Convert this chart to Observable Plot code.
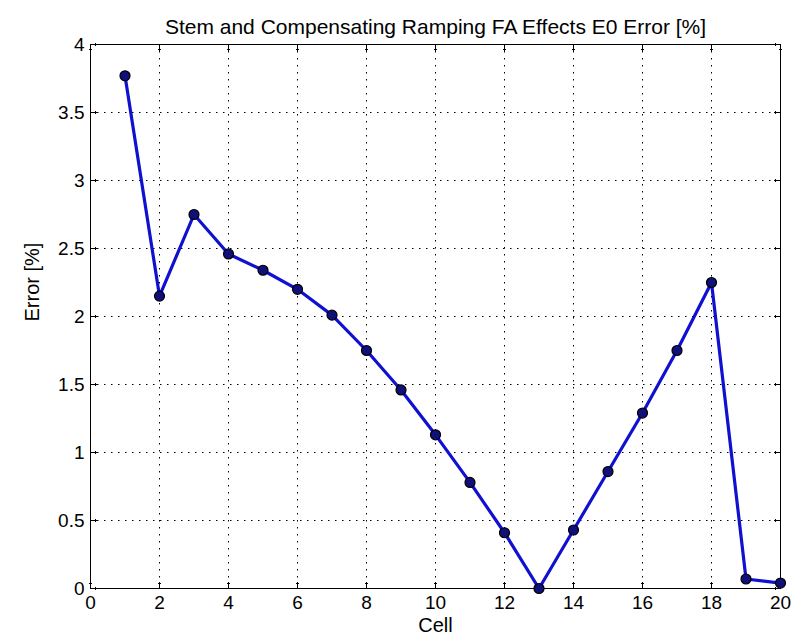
<!DOCTYPE html>
<html>
<head>
<meta charset="utf-8">
<script src="https://cdn.jsdelivr.net/npm/d3@7"></script>
<script src="https://cdn.jsdelivr.net/npm/@observablehq/plot@0.6"></script>
<style>
  html, body { margin: 0; padding: 0; background: #fff; }
  #chart svg { display: block; }
</style>
</head>
<body>
<div id="chart"></div>
<script>
const cells = [1, 2, 3, 4, 5, 6, 7, 8, 9, 10, 11, 12, 13, 14, 15, 16, 17, 18, 19, 20];
const errors = [3.77, 2.15, 2.75, 2.46, 2.34, 2.20, 2.01, 1.75, 1.46, 1.13, 0.78, 0.41, 0.00, 0.43, 0.86, 1.29, 1.75, 2.25, 0.07, 0.04];
const xTicks = [0, 2, 4, 6, 8, 10, 12, 14, 16, 18, 20];
const yTicks = [0, 0.5, 1, 1.5, 2, 2.5, 3, 3.5, 4];
const titleText = "Stem and Compensating Ramping FA Effects E0 Error [%]";
const xLabel = "Cell";
const yLabel = "Error [%]";

const data = cells.map((c, i) => ({cell: c, error: errors[i]}));
const font = '"Liberation Sans Narrow", "Arial Narrow", "Liberation Sans", Arial, sans-serif';

const chart = Plot.plot({
  width: 796,
  height: 642,
  marginLeft: 90,
  marginRight: 16,
  marginTop: 44,
  marginBottom: 54,
  style: {fontFamily: font, fontSize: "19px", background: "#fff", color: "#000"},
  x: {domain: [0, 20], ticks: xTicks, label: null},
  y: {domain: [0, 4], ticks: yTicks, label: null},
  marks: [
    Plot.gridX(xTicks.slice(1, -1), {stroke: "#000", strokeOpacity: 1, strokeDasharray: "1.5,5.5", strokeWidth: 1}),
    Plot.gridY(yTicks.slice(1, -1), {stroke: "#000", strokeOpacity: 1, strokeDasharray: "1.5,5.5", strokeWidth: 1}),
    Plot.frame({stroke: "#000", strokeWidth: 1}),
    Plot.vector(xTicks, {x: d => d, frameAnchor: "bottom", rotate: 0, length: 6, anchor: "start", stroke: "#000", strokeWidth: 1}),
    Plot.vector(xTicks, {x: d => d, frameAnchor: "top", rotate: 180, length: 6, anchor: "start", stroke: "#000", strokeWidth: 1}),
    Plot.vector(yTicks, {y: d => d, frameAnchor: "left", rotate: 90, length: 6, anchor: "start", stroke: "#000", strokeWidth: 1}),
    Plot.vector(yTicks, {y: d => d, frameAnchor: "right", rotate: 270, length: 6, anchor: "start", stroke: "#000", strokeWidth: 1}),
    Plot.axisX(xTicks, {anchor: "bottom", tickSize: 0, tickPadding: 7, tickFormat: d => String(d), fontSize: 19, label: null}),
    Plot.axisY(yTicks, {anchor: "left", tickSize: 0, tickPadding: 6, tickFormat: d => String(d), fontSize: 19, label: null}),
    Plot.line(data, {x: "cell", y: "error", stroke: "#1010d0", strokeWidth: 3.2, strokeLinejoin: "round"}),
    Plot.dot(data, {x: "cell", y: "error", r: 5, fill: "#10107a", stroke: "#000", strokeWidth: 1.2}),
    Plot.text([titleText], {frameAnchor: "top", dy: -25, fontSize: 21, fill: "#000", text: d => d}),
    Plot.text([xLabel], {frameAnchor: "bottom", dy: 43, fontSize: 20, fill: "#000", text: d => d}),
    Plot.text([yLabel], {frameAnchor: "left", dx: -58, dy: 5, rotate: -90, fontSize: 20, fill: "#000", text: d => d})
  ]
});
document.getElementById("chart").appendChild(chart);
</script>
</body>
</html>
